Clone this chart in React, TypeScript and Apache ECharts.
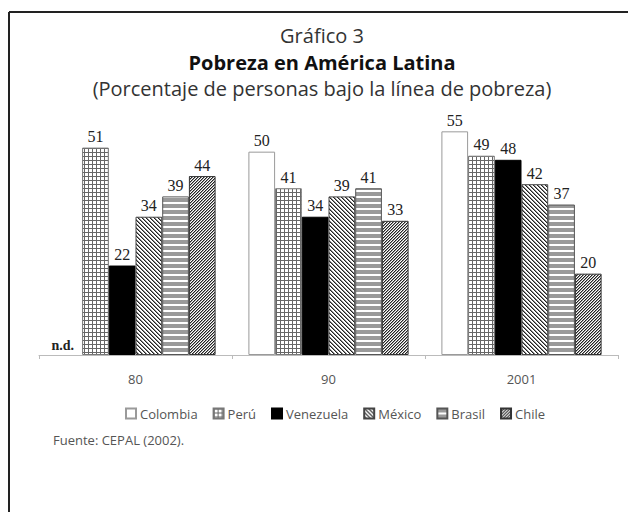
import React, { useEffect, useRef } from 'react';
import * as echarts from 'echarts';

const categories = ['80', '90', '2001'];
const seriesNames = ['Colombia', 'Perú', 'Venezuela', 'México', 'Brasil', 'Chile'];
const colombia: (number | null)[] = [null, 50, 55];
const peru: (number | null)[] = [51, 41, 49];
const venezuela: (number | null)[] = [22, 34, 48];
const mexico: (number | null)[] = [34, 39, 42];
const brasil: (number | null)[] = [39, 41, 37];
const chile: (number | null)[] = [44, 33, 20];

const titleLine1 = 'Gráfico 3';
const titleLine2 = 'Pobreza en América Latina';
const titleLine3 = '(Porcentaje de personas bajo la línea de pobreza)';
const sourceText = 'Fuente: CEPAL (2002).';
const missingLabel = 'n.d.';

function tile(w: number, h: number, draw: (ctx: CanvasRenderingContext2D) => void) {
  const c = document.createElement('canvas');
  c.width = w;
  c.height = h;
  const ctx = c.getContext('2d')!;
  ctx.fillStyle = '#ffffff';
  ctx.fillRect(0, 0, w, h);
  draw(ctx);
  return { image: c, repeat: 'repeat' as const };
}

export default function App() {
  const ref = useRef<HTMLDivElement>(null);
  useEffect(() => {
    document.body.style.margin = '0';
    const chart = echarts.init(ref.current!, undefined, { renderer: 'svg' });

    const peruPat = tile(4, 4, (ctx) => {
      ctx.fillStyle = '#666';
      ctx.fillRect(0, 0, 4, 1);
      ctx.fillRect(0, 0, 1, 4);
    });
    const mexPat = tile(4, 4, (ctx) => {
      for (let i = 0; i < 4; i++) {
        ctx.fillStyle = '#222';
        ctx.fillRect(i, i, 1, 1);
        ctx.fillStyle = '#888';
        ctx.fillRect((i + 1) % 4, i, 1, 1);
      }
    });
    const brasilPat = tile(2, 6, (ctx) => {
      ctx.fillStyle = '#9a9a9a';
      ctx.fillRect(0, 0, 2, 4);
    });
    const chilePat = tile(3, 3, (ctx) => {
      for (let i = 0; i < 3; i++) {
        ctx.fillStyle = '#222';
        ctx.fillRect(2 - i, i, 1, 1);
        ctx.fillStyle = '#999';
        ctx.fillRect((3 - i) % 3, i, 1, 1);
      }
    });

    const seriesData = [colombia, peru, venezuela, mexico, brasil, chile];
    const fills: any[] = ['#ffffff', peruPat, '#000000', mexPat, brasilPat, chilePat];
    const borders = ['#9a9a9a', '#777', '#000', '#444', '#555', '#333'];

    const labelStyle = {
      show: true,
      position: 'top',
      distance: 3,
      fontFamily: 'Liberation Serif',
      fontSize: 16,
      color: '#222',
    };

    const series = seriesData.map((arr, si) => ({
      name: seriesNames[si],
      type: 'bar',
      barGap: '0%',
      barCategoryGap: '17%',
      itemStyle: { color: fills[si], borderColor: borders[si], borderWidth: 1 },
      label: labelStyle,
      data: arr.map((v) =>
        v === null
          ? {
              value: 0,
              itemStyle: { color: 'rgba(0,0,0,0)', borderWidth: 0 },
              label: {
                show: true,
                formatter: missingLabel,
                fontWeight: 'bold',
                fontSize: 14,
                offset: [-6, 0],
              },
            }
          : v
      ),
    }));

    chart.setOption({
      animation: false,
      backgroundColor: '#ffffff',
      grid: { left: 39, right: 10, top: 111, bottom: 157 },
      xAxis: {
        type: 'category',
        data: categories,
        axisLine: { show: true, lineStyle: { color: '#bbb', width: 1 } },
        axisTick: { show: true, length: 4, lineStyle: { color: '#bbb' } },
        axisLabel: {
          margin: 17,
          fontFamily: 'Open Sans',
          fontSize: 13,
          color: '#555',
        },
      },
      yAxis: { type: 'value', min: 0, max: 60, show: false, splitLine: { show: false } },
      legend: {
        top: 402,
        left: 120,
        itemWidth: 10,
        itemHeight: 10,
        itemGap: 15,
        icon: 'rect',
        textStyle: { fontFamily: 'Open Sans', fontSize: 13, color: '#555', padding: [0, 0, 0, -1] },
        data: seriesNames,
      },
      graphic: [
        { type: 'line', shape: { x1: 9, y1: 12, x2: 9, y2: 512 }, style: { stroke: '#222', lineWidth: 2 } },
        { type: 'line', shape: { x1: 9, y1: 12, x2: 628, y2: 12 }, style: { stroke: '#222', lineWidth: 2 } },
        {
          type: 'text', x: 322, y: 35,
          style: { text: titleLine1, textAlign: 'center', textVerticalAlign: 'middle', fontFamily: 'Open Sans', fontSize: 20, fill: '#333' },
        },
        {
          type: 'text', x: 322, y: 62,
          style: { text: titleLine2, textAlign: 'center', textVerticalAlign: 'middle', fontFamily: 'Open Sans', fontWeight: 'bold', fontSize: 20, fill: '#111' },
        },
        {
          type: 'text', x: 322, y: 88,
          style: { text: titleLine3, textAlign: 'center', textVerticalAlign: 'middle', fontFamily: 'Open Sans', fontSize: 20, fill: '#333' },
        },
        {
          type: 'text', x: 53, y: 440,
          style: { text: sourceText, textAlign: 'left', textVerticalAlign: 'middle', fontFamily: 'Open Sans', fontSize: 13, fill: '#555' },
        },
      ],
      series,
    });
    return () => chart.dispose();
  }, []);
  return <div ref={ref} style={{ width: 628, height: 512 }} />;
}
